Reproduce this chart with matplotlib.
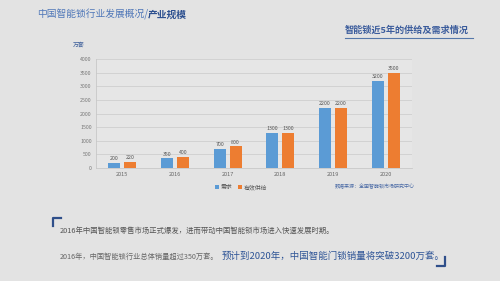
import matplotlib
matplotlib.use("Agg")
import matplotlib.pyplot as plt
import numpy as np

plt.rcParams['font.family'] = ['Noto Sans CJK SC', 'DejaVu Sans']

years = ['2015', '2016', '2017', '2018', '2019', '2020']
demand = [200, 350, 700, 1300, 2200, 3200]
supply = [220, 400, 800, 1300, 2200, 3500]
series_names = ['需求', '有效供给']
yticks = [0, 500, 1000, 1500, 2000, 2500, 3000, 3500, 4000]

BG = '#e3e3e3'
BLUE = '#5b9bd5'
ORANGE = '#ed7d31'

fig = plt.figure(figsize=(5, 2.81), dpi=100, facecolor=BG)
ax = fig.add_axes([0.192, 0.402, 0.632, 0.388])
ax.set_facecolor('#e6e6e6')

x = np.arange(len(years))
w = 0.23
b1 = ax.bar(x - 0.15, demand, w, color=BLUE, label=series_names[0], zorder=3)
b2 = ax.bar(x + 0.15, supply, w, color=ORANGE, label=series_names[1], zorder=3)
for bars, vals in ((b1, demand), (b2, supply)):
    for r, v in zip(bars, vals):
        ax.text(r.get_x() + r.get_width() / 2, v + 60, str(v), ha='center', va='bottom',
                fontsize=3.8, color='#555555')

ax.set_xlim(-0.5, len(years) - 0.5)
ax.set_ylim(0, 4000)
ax.set_yticks(yticks)
ax.set_yticklabels([str(t) for t in yticks], fontsize=3.8, color='#777777')
ax.set_xticks(x)
ax.set_xticklabels(years, fontsize=4.0, color='#666666')
ax.tick_params(length=0, pad=3)
ax.grid(axis='y', color='#cfcfcf', linewidth=0.6, zorder=0)
for s in ['top', 'right']:
    ax.spines[s].set_visible(False)
ax.spines['left'].set_color('#c8c8c8')
ax.spines['bottom'].set_color('#c8c8c8')
ax.spines['left'].set_linewidth(0.6)
ax.spines['bottom'].set_linewidth(0.6)

ax.legend(loc='upper left', bbox_to_anchor=(0.36, -0.1), ncol=2, frameon=False,
          fontsize=4.2, handlelength=0.6, handleheight=0.6, columnspacing=1.0,
          handletextpad=0.4, labelcolor='#555555')

fig.text(0.146, 0.84, '万套', fontsize=4.2, color='#3d5f9a', va='center')
fig.text(0.67, 0.33, '数据来源：全国智能锁市场研究中心', fontsize=3.6, color='#4a6aa5')

# Titles
fig.text(0.074, 0.948, '中国智能锁行业发展概况/', fontsize=7, color='#4f77b8', va='center')
fig.text(0.295, 0.948, '产业规模', fontsize=7, color='#2c4f8f', weight='bold', va='center')
fig.text(0.69, 0.893, '智能锁近5年的供给及需求情况', fontsize=6.6, color='#3b5c9c',
         weight='bold', va='center')
fig.add_artist(plt.Line2D([0.69, 0.945], [0.866, 0.866], color='#5577aa', linewidth=0.8,
                          transform=fig.transFigure))

# Bottom text
fig.text(0.12, 0.178, '2016年中国智能锁零售市场正式爆发，进而带动中国智能锁市场进入快速发展时期。',
         fontsize=5.3, color='#555555', va='center')
fig.text(0.12, 0.085, '2016年，中国智能锁行业总体销量超过350万套。', fontsize=5.2,
         color='#666666', va='center')
fig.text(0.443, 0.088, '预计到2020年，中国智能门锁销量将突破3200万套。', fontsize=6.8,
         color='#2f5597', va='center')
# corner brackets
fig.add_artist(plt.Line2D([0.106, 0.106, 0.122], [0.195, 0.225, 0.225], color='#2f4f8a',
                          linewidth=1.6, transform=fig.transFigure))
fig.add_artist(plt.Line2D([0.874, 0.89, 0.89], [0.052, 0.052, 0.084], color='#2f4f8a',
                          linewidth=1.6, transform=fig.transFigure))

fig.savefig('out.png', dpi=100, facecolor=BG)
